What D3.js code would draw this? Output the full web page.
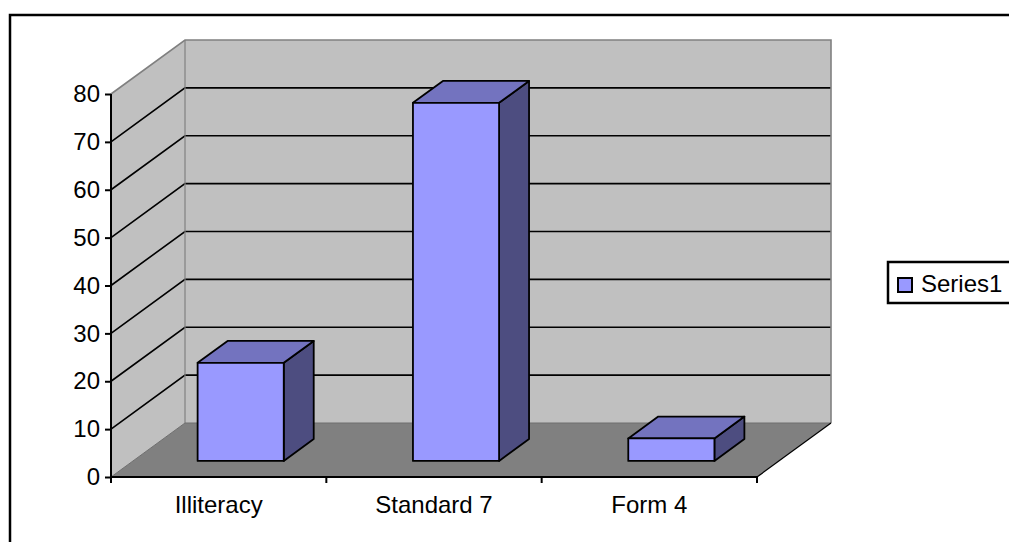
<!DOCTYPE html>
<html>
<head>
<meta charset="utf-8">
<script src="https://cdn.jsdelivr.net/npm/d3@7"></script>
<style>
  body { margin: 0; background: #fff; }
  svg { display: block; font-family: "Liberation Sans", Arial, sans-serif; }
</style>
</head>
<body>
<svg id="chart" width="1009" height="542"></svg>
<script>
const categories = ["Illiteracy", "Standard 7", "Form 4"];
const values = [20.5, 74.8, 4.7];
const seriesName = "Series1";
const yTicks = [0, 10, 20, 30, 40, 50, 60, 70, 80];

const width = 1009, height = 542;
const plot = { left: 111, right: 757, bottom: 477, top: 94 };
const depth = { dx: 74, dy: -54 };   // 3D offset of back wall
const barDepth = 0.405;             // fraction of full depth used by the bars
const barWidth = 0.4;               // fraction of band width
const fontSize = 24;

const colors = {
  wall: "#c0c0c0",
  floor: "#808080",
  edge: "#808080",
  front: "#9999ff",
  top: "#7373bf",
  side: "#4d4d80"
};

const svg = d3.select("#chart");

// chart area border
svg.append("rect")
  .attr("x", 10).attr("y", 15)
  .attr("width", 1200).attr("height", 700)
  .attr("fill", "#fff")
  .attr("stroke", "#000")
  .attr("stroke-width", 2.5);

const y = d3.scaleLinear().domain([0, 80]).range([plot.bottom, plot.top]);
const x = d3.scaleBand().domain(categories).range([plot.left, plot.right]).padding(0);

const bx = plot.left + depth.dx;          // back wall left
const brx = plot.right + depth.dx;        // back wall right
const line = d3.line();

// left wall
svg.append("path")
  .attr("d", line([[plot.left, y(80)], [bx, y(80) + depth.dy], [bx, y(0) + depth.dy], [plot.left, y(0)]]) + "Z")
  .attr("fill", colors.wall);

// back wall
svg.append("rect")
  .attr("x", bx).attr("y", y(80) + depth.dy)
  .attr("width", brx - bx).attr("height", y(0) - y(80))
  .attr("fill", colors.wall);

// floor
svg.append("path")
  .attr("d", line([[plot.left, y(0)], [bx, y(0) + depth.dy], [brx, y(0) + depth.dy], [plot.right, y(0)]]) + "Z")
  .attr("fill", colors.floor);

// gridlines
const grid = svg.append("g");
yTicks.filter(t => t > 0 && t < 80).forEach(t => {
  grid.append("path")
    .attr("d", line([[plot.left, y(t)], [bx, y(t) + depth.dy], [brx, y(t) + depth.dy]]))
    .attr("fill", "none")
    .attr("stroke", "#000")
    .attr("stroke-width", 1.6);
});

// wall edges
svg.append("path")
  .attr("d", line([[plot.left, y(80)], [bx, y(80) + depth.dy], [brx, y(80) + depth.dy], [brx, y(0) + depth.dy]]))
  .attr("fill", "none").attr("stroke", colors.edge).attr("stroke-width", 1.6);
svg.append("path")
  .attr("d", line([[bx, y(80) + depth.dy], [bx, y(0) + depth.dy]]))
  .attr("fill", "none").attr("stroke", colors.edge).attr("stroke-width", 1.2);
svg.append("path")
  .attr("d", line([[plot.left, y(0)], [bx, y(0) + depth.dy], [brx, y(0) + depth.dy]]))
  .attr("fill", "none").attr("stroke", "#6e6e6e").attr("stroke-width", 1);
svg.append("path")
  .attr("d", line([[plot.right, y(0)], [brx, y(0) + depth.dy]]))
  .attr("fill", "none").attr("stroke", "#000").attr("stroke-width", 1.2);

// bars
const off = (1 - barDepth) / 2;
const ox = depth.dx * off, oy = depth.dy * off;
const ddx = depth.dx * barDepth, ddy = depth.dy * barDepth;

const bars = svg.append("g")
  .selectAll("g")
  .data(categories.map((c, i) => ({ c, v: values[i] })))
  .join("g");

bars.each(function (d) {
  const g = d3.select(this);
  const x0 = x(d.c) + x.bandwidth() * (1 - barWidth) / 2 + ox;
  const x1 = x0 + x.bandwidth() * barWidth;
  const yb = y(0) + oy;
  const yt = y(d.v) + oy;
  const style = sel => sel.attr("stroke", "#000").attr("stroke-width", 1.8).attr("stroke-linejoin", "round");

  g.append("path")
    .attr("d", line([[x1, yb], [x1 + ddx, yb + ddy], [x1 + ddx, yt + ddy], [x1, yt]]) + "Z")
    .attr("fill", colors.side).call(style);
  g.append("path")
    .attr("d", line([[x0, yt], [x0 + ddx, yt + ddy], [x1 + ddx, yt + ddy], [x1, yt]]) + "Z")
    .attr("fill", colors.top).call(style);
  g.append("rect")
    .attr("x", x0).attr("y", yt)
    .attr("width", x1 - x0).attr("height", yb - yt)
    .attr("fill", colors.front).call(style);
});

// y axis
const yAxis = svg.append("g")
  .attr("transform", `translate(${plot.left},0)`)
  .call(d3.axisLeft(y).tickValues(yTicks).tickSize(6).tickPadding(5).tickSizeOuter(0));
yAxis.select(".domain").attr("stroke", "#000").attr("stroke-width", 2)
  .attr("d", `M0,${y(80)}V${y(0) + 6}`);
yAxis.selectAll(".tick line").attr("stroke", "#000").attr("stroke-width", 2);
yAxis.selectAll(".tick text")
  .attr("font-size", fontSize).attr("font-family", "Liberation Sans, Arial, sans-serif").attr("fill", "#000");

// x axis
const xAxis = svg.append("g")
  .attr("transform", `translate(0,${plot.bottom})`);
xAxis.append("path")
  .attr("d", `M${plot.left},0H${plot.right}`)
  .attr("stroke", "#000").attr("stroke-width", 2);
categories.concat(["end"]).forEach((c, i) => {
  const px = c === "end" ? plot.right : x(c);
  xAxis.append("line")
    .attr("x1", px).attr("x2", px).attr("y1", 0).attr("y2", 6)
    .attr("stroke", "#000").attr("stroke-width", 2);
});
xAxis.selectAll("text.cat")
  .data(categories)
  .join("text")
  .attr("class", "cat")
  .attr("x", d => x(d) + x.bandwidth() / 2)
  .attr("y", 36)
  .attr("text-anchor", "middle")
  .attr("font-size", fontSize)
  .text(d => d);

// legend
const legend = svg.append("g").attr("transform", "translate(888,262)");
legend.append("rect")
  .attr("width", 130).attr("height", 41)
  .attr("fill", "#fff").attr("stroke", "#000").attr("stroke-width", 2.5);
legend.append("rect")
  .attr("x", 10).attr("y", 16).attr("width", 14).attr("height", 14)
  .attr("fill", colors.front).attr("stroke", "#000").attr("stroke-width", 2);
legend.append("text")
  .attr("x", 33).attr("y", 30)
  .attr("font-size", fontSize)
  .text(seriesName);
</script>
</body>
</html>
